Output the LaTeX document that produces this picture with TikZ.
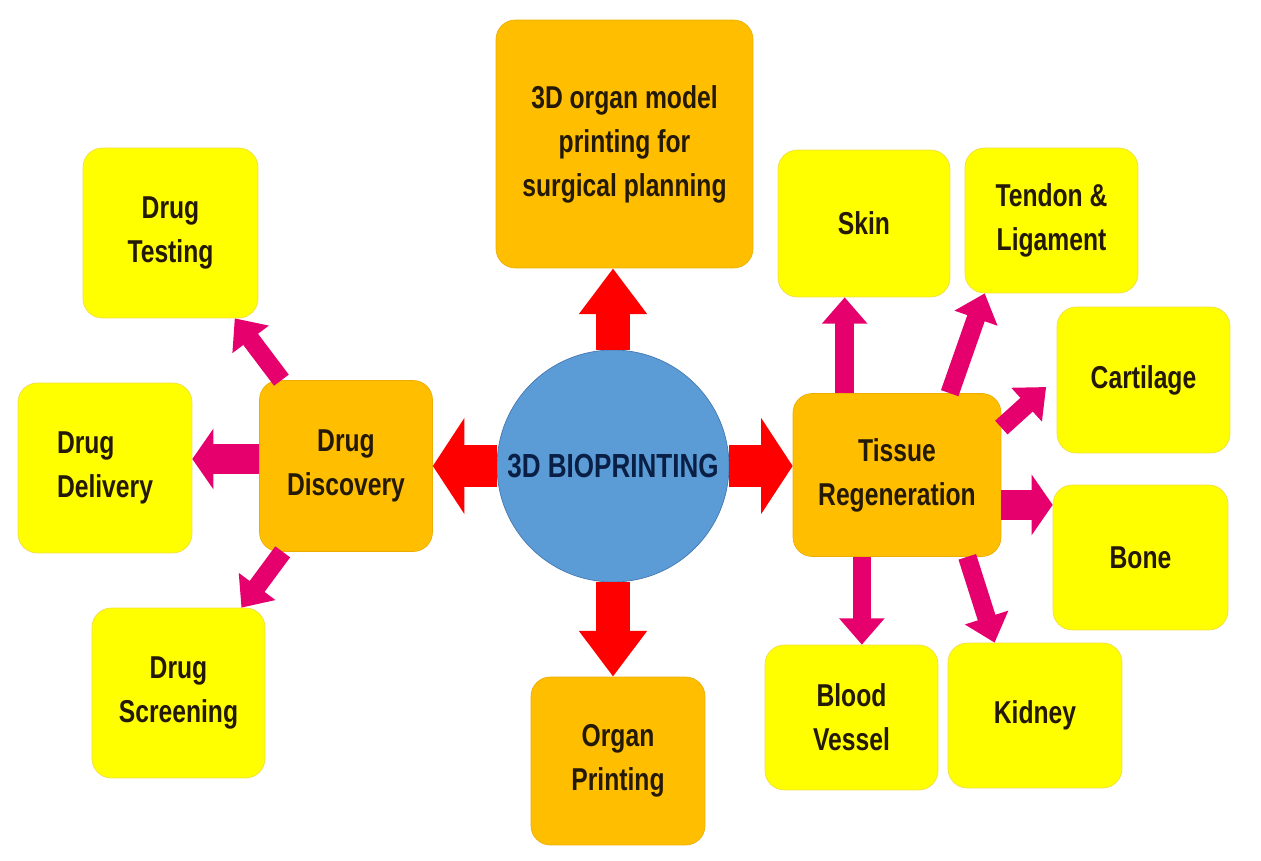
\documentclass[tikz,border=0pt]{standalone}
\usepackage{xcolor}
\usepackage{fontspec}
\usepackage{tikz}
\usetikzlibrary{shapes,arrows.meta,positioning,calc}
\newfontfamily\boxfont{Liberation Sans}[FakeStretch=0.78]
\definecolor{amber}{rgb}{1.0, 0.75, 0.0}
\definecolor{amberedge}{rgb}{0.93, 0.68, 0.0}
\definecolor{lemon}{rgb}{1.0, 1.0, 0.0}
\definecolor{lemonedge}{rgb}{0.95, 0.87, 0.25}
\definecolor{tuftsblue}{rgb}{0.36, 0.61, 0.84}
\definecolor{tuftsedge}{rgb}{0.27, 0.47, 0.70}
\definecolor{candyred}{rgb}{1.0, 0.0, 0.0}
\definecolor{rubine}{rgb}{0.9, 0.0, 0.43}
\definecolor{inkbrown}{rgb}{0.14, 0.1, 0.02}
\definecolor{navyink}{rgb}{0.04, 0.12, 0.27}

\begin{document}
\begin{tikzpicture}[x=0.02cm, y=-0.02cm,
        mainbox/.style={fill=amber, draw=amberedge, rounded corners=11pt, align=center, inner sep=2pt,
            text=inkbrown, font=\boxfont\bfseries\fontsize{18}{25}\selectfont},
        subbox/.style={fill=lemon, draw=lemonedge, rounded corners=11pt, align=center, inner sep=2pt,
            text=inkbrown, font=\boxfont\bfseries\fontsize{18}{25}\selectfont},
        redarrow/.style={draw=candyred, line width=19pt, -{Triangle[width=37pt, length=26pt]}},
        redwide/.style={draw=candyred, line width=24pt, -{Triangle[width=54pt, length=18pt]}},
        pinkarrow/.style={draw=rubine, line width=10.5pt, -{Triangle[width=25pt, length=15pt]}},
        pinkwide/.style={draw=rubine, line width=17pt, -{Triangle[width=34pt, length=12pt]}}]
            \fill[white] (0,0) rectangle (1261,861);
            \useasboundingbox (0,0) rectangle (1261,861);
            % centre
            \node[circle, fill=tuftsblue, draw=tuftsedge, minimum size=4.64cm, inner sep=0pt, text=navyink,
                font=\boxfont\bfseries\fontsize{19}{25}\selectfont] (bio) at (613,466) {3D BIOPRINTING};
            \node[mainbox, minimum width=5.14cm, minimum height=4.96cm] (model) at (624.5,144) {3D organ model\\printing for\\surgical planning};
            \node[mainbox, minimum width=3.48cm, minimum height=3.36cm] (organ) at (618,761) {Organ\\Printing};
            \node[mainbox, minimum width=3.46cm, minimum height=3.42cm] (disc) at (346,466) {Drug\\Discovery};
            \node[mainbox, minimum width=4.16cm, minimum height=3.26cm] (tissue) at (897,475) {Tissue\\Regeneration};

            % drug side
            \node[subbox, minimum width=3.5cm, minimum height=3.4cm] (test) at (170.5,233) {Drug\\Testing};
            \node[subbox, minimum width=3.48cm, minimum height=3.4cm, align=left] (deliv) at (105,468) {Drug\\Delivery};
            \node[subbox, minimum width=3.46cm, minimum height=3.4cm] (screen) at (178.5,693) {Drug\\Screening};

            % tissue side
            \node[subbox, minimum width=3.44cm, minimum height=2.94cm] (skin) at (864,223.5) {Skin};
            \node[subbox, minimum width=3.46cm, minimum height=2.9cm] (tendon) at (1051.5,220.5) {Tendon \&\\Ligament};
            \node[subbox, minimum width=3.46cm, minimum height=2.92cm] (cart) at (1143.5,380) {Cartilage};
            \node[subbox, minimum width=3.5cm, minimum height=2.9cm] (bone) at (1140.5,557.5) {Bone};
            \node[subbox, minimum width=3.46cm, minimum height=2.9cm] (vessel) at (851.5,717.5) {Blood\\Vessel};
            \node[subbox, minimum width=3.48cm, minimum height=2.9cm] (kidney) at (1035,715.5) {Kidney};

            % Main Arrows
            \draw[redarrow] (bio.north) -- (bio.north |- model.south);
            \draw[redarrow] (bio.south) -- (bio.south |- organ.north);
            \draw[redwide] (bio.west) -- (bio.west -| disc.east);
            \draw[redwide] (bio.east) -- (bio.east -| tissue.west);

            % Drug Arrows
            \draw[pinkarrow] (disc) -- (test);
            \draw[pinkwide] ([yshift=4pt]disc.west) -- ([yshift=4pt]disc.west -| deliv.east);
            \draw[pinkarrow] (disc) -- (screen);

            % Tissue Arrows
            \draw[pinkarrow] ([xshift=-11pt]skin.south |- tissue.north) -- ([xshift=-11pt]skin.south);
            \draw[pinkarrow] ([xshift=30pt]tissue.north) -- ([xshift=-38pt]tendon.south);
            \draw[pinkarrow] ([yshift=27pt]tissue.east) -- ([xshift=-6pt, yshift=-4pt]cart.west);
            \draw[pinkwide] ([yshift=-17pt]tissue.east) -- ([yshift=-17pt]tissue.east -| bone.west);
            \draw[pinkarrow] ([xshift=-20pt]tissue.south) -- ([xshift=-20pt]tissue.south |- vessel.north);
            \draw[pinkarrow] ([xshift=40pt]tissue.south) -- ([xshift=-23pt]kidney.north);
\end{tikzpicture}
\end{document}
